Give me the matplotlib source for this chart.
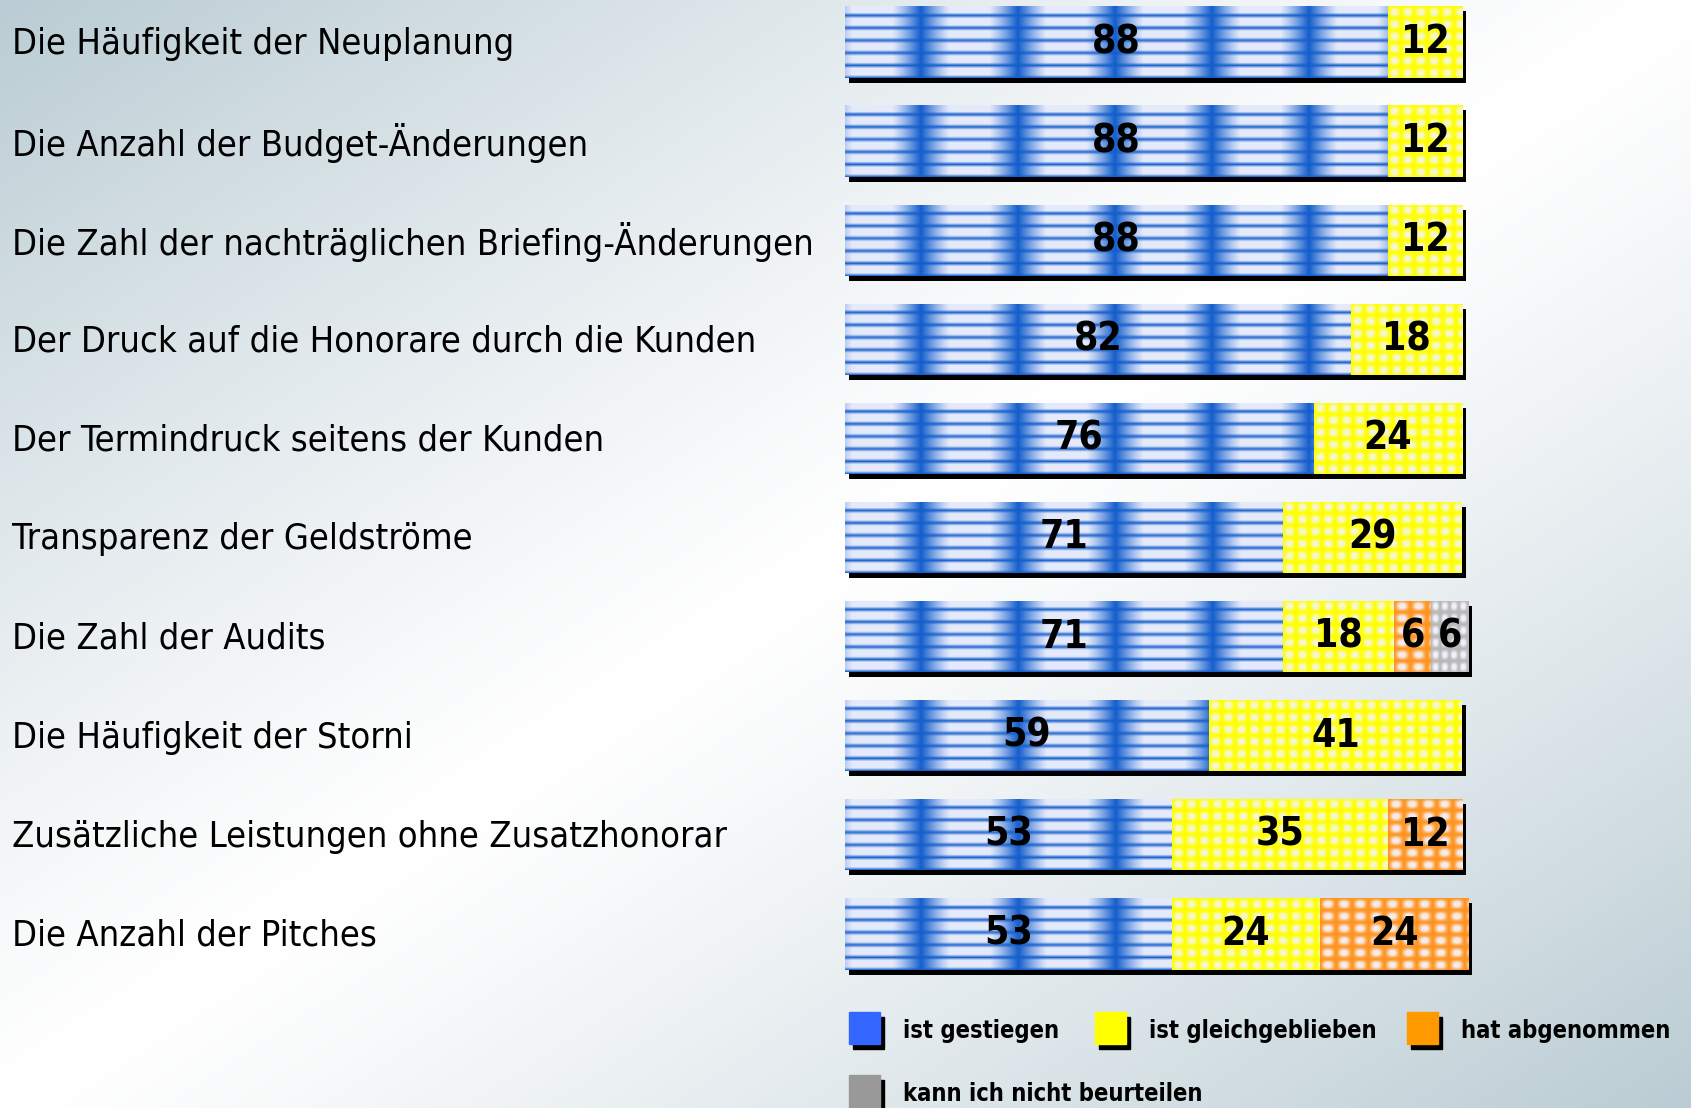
import numpy as np
import matplotlib.pyplot as plt
from matplotlib import transforms
from matplotlib.patches import Rectangle

categories = [
    "Die Häufigkeit der Neuplanung",
    "Die Anzahl der Budget-Änderungen",
    "Die Zahl der nachträglichen Briefing-Änderungen",
    "Der Druck auf die Honorare durch die Kunden",
    "Der Termindruck seitens der Kunden",
    "Transparenz der Geldströme",
    "Die Zahl der Audits",
    "Die Häufigkeit der Storni",
    "Zusätzliche Leistungen ohne Zusatzhonorar",
    "Die Anzahl der Pitches",
]
gestiegen = [88, 88, 88, 82, 76, 71, 71, 59, 53, 53]
gleich = [12, 12, 12, 18, 24, 29, 18, 41, 35, 24]
abgenommen = [0, 0, 0, 0, 0, 0, 6, 0, 12, 24]
unbekannt = [0, 0, 0, 0, 0, 0, 6, 0, 0, 0]
series_names = ["ist gestiegen", "ist gleichgeblieben", "hat abgenommen",
                "kann ich nicht beurteilen"]

W, H, DPI = 1691, 1108, 100
X0, PXU = 845, 6.17          # bar origin (px) and px per percent
ROW0, PITCH = 42, 99.1       # first row centre (px) and row pitch
BAR_H = 0.72

base_colors = ["#1f63cf", "#ffff00", "#ff9922", "#b4b4b4"]
legend_colors = ["#3366ff", "#ffff00", "#ff9900", "#999999"]


def texture(kind, wpx, hpx):
    wpx, hpx = max(wpx, 2), max(hpx, 2)
    x = np.arange(wpx)[None, :] + 0.5
    y = np.arange(hpx)[:, None] + 0.5
    white = np.array([0.96, 0.96, 1.0])
    if kind == 0:
        fx = np.clip(np.sin(np.pi * ((x + 21) % 97) / 97) * 1.25, 0, 1)
        fy = np.clip(np.sin(np.pi * ((y + 3) % 12.3) / 12.3) * 1.5, 0, 1)
        w = (fx * fy * 0.93)[..., None]
        base = np.array([0.08, 0.37, 0.80])
    else:
        cw, ch, col, amt = {1: (13, 12, (1.0, 1.0, 0.0), 0.8),
                            2: (16, 12, (1.0, 0.58, 0.12), 0.9),
                            3: (9, 12, (0.72, 0.72, 0.72), 0.95)}[kind]
        fx = np.sin(np.pi * (x % cw) / cw)
        fy = np.sin(np.pi * (y % ch) / ch)
        w = (np.clip(fx * fy * 1.2, 0, 1) ** 1.6 * amt)[..., None]
        base = np.array(col)
    return base * (1 - w) + white * w


fig = plt.figure(figsize=(W / DPI, H / DPI), dpi=DPI)

# background gradient
bg = fig.add_axes([0, 0, 1, 1], zorder=-10)
gx, gy = np.meshgrid(np.linspace(0, 1, 400), np.linspace(0, 1, 300))
s = np.abs(gx + gy - 1) ** 1.2
corner = np.array([0.73, 0.80, 0.83])
img = np.ones(3) * (1 - s[..., None]) + corner * s[..., None]
bg.imshow(img, extent=(0, 1, 0, 1), aspect="auto", origin="upper",
          interpolation="bilinear")
bg.axis("off")

ax = fig.add_axes([X0 / W, 0, 1 - X0 / W, 1])
ax.axis("off")
ypos = np.arange(len(categories))

data = [np.array(gestiegen), np.array(gleich), np.array(abgenommen),
        np.array(unbekannt)]
totals = sum(data)

shadow = transforms.offset_copy(ax.transData, fig=fig, x=4, y=-5, units="dots")
ax.barh(ypos, totals, height=BAR_H, color="black", transform=shadow,
        zorder=1)

left = np.zeros(len(categories))
hpx = int(round(BAR_H * PITCH))
for k, vals in enumerate(data):
    bars = ax.barh(ypos, vals, left=left, height=BAR_H, color=base_colors[k],
                   linewidth=0, zorder=2)
    for rect, v, l, yy in zip(bars, vals, left, ypos):
        if v <= 0:
            continue
        tex = texture(k, int(round(v * PXU)), hpx)
        im = ax.imshow(tex, extent=(l, l + v, yy + BAR_H / 2, yy - BAR_H / 2),
                       aspect="auto", interpolation="bilinear", zorder=3)
        im.set_clip_path(rect)
        ax.text(l + v / 2, yy, str(v), ha="center", va="center",
                fontsize=28, fontweight="bold", fontstretch="condensed",
                color="black", zorder=5)
    left = left + vals

ax.set_xlim(0, (W - X0) / PXU)
ax.set_ylim((H - ROW0) / PITCH, -ROW0 / PITCH)

lab_tr = transforms.blended_transform_factory(fig.transFigure, ax.transData)
for yy, name in zip(ypos, categories):
    ax.text(12 / W, yy + 0.02, name, transform=lab_tr, ha="left", va="center",
            fontsize=26, fontstretch="condensed", color="black")

# legend
leg = fig.add_axes([0, 0, 1, 1], zorder=5)
leg.set_xlim(0, W)
leg.set_ylim(H, 0)
leg.axis("off")
leg_pos = [(849, 1012), (1095, 1012), (1407, 1012), (849, 1075)]
for (lx, ly), name, c in zip(leg_pos, series_names, legend_colors):
    leg.add_patch(Rectangle((lx + 4, ly + 5), 31, 32, color="black"))
    leg.add_patch(Rectangle((lx, ly), 31, 32, color=c))
    leg.text(lx + 54, ly + 19, name, ha="left", va="center", fontsize=17,
             fontweight="bold", fontstretch="condensed", color="black")

fig.savefig("out.png", dpi=DPI)
